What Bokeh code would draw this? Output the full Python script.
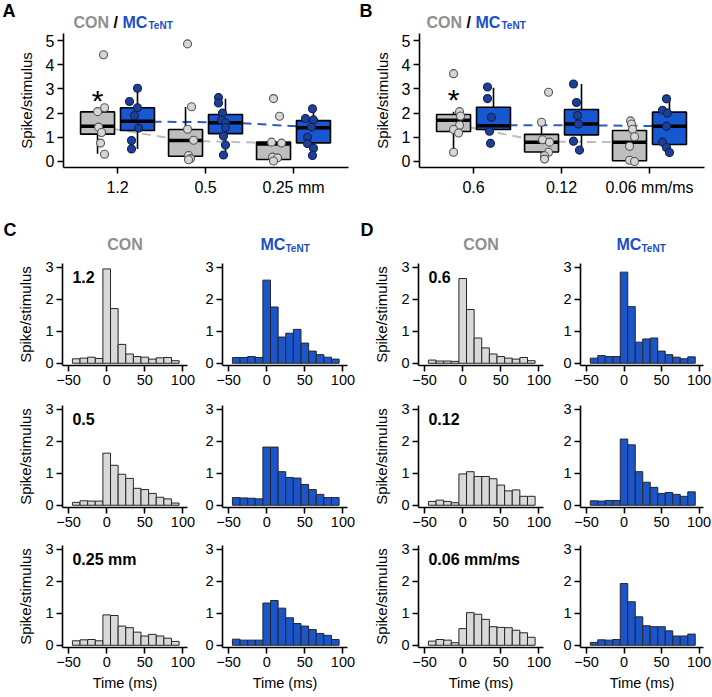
from bokeh.plotting import figure
from bokeh.layouts import column, row
from bokeh.models import FixedTicker, Range1d
from bokeh.embed import file_html
from bokeh.resources import INLINE
from bokeh.core.properties import value

FONT = "Liberation Sans"

# ---------------- data: panels A / B (box plots) ----------------
CATS = [1, 2, 3]
A_TICKS = ["1.2", "0.5", "0.25 mm"]
B_TICKS = ["0.6", "0.12", "0.06 mm/ms"]

# box statistics: q1, median, q3, whisker low, whisker high
A_CON_Q1 = [1.13, 0.22, 0.08]
A_CON_MED = [1.46, 0.87, 0.72]
A_CON_Q3 = [2.05, 1.32, 0.80]
A_CON_WLO = [0.32, 0.07, 0.08]
A_CON_WHI = [2.22, 2.25, 0.80]
A_MC_Q1 = [1.28, 1.15, 0.77]
A_MC_MED = [1.66, 1.60, 1.39]
A_MC_Q3 = [2.22, 1.94, 1.69]
A_MC_WLO = [0.52, 0.25, 0.25]
A_MC_WHI = [3.03, 2.59, 2.18]
A_CON_LINE = [1.46, 0.85, 0.77]
A_MC_LINE = [1.65, 1.62, 1.42]
A_CON_PTS = [[4.41, 2.22, 2.06, 1.42, 1.20, 0.76, 0.30],
             [4.86, 2.26, 1.33, 0.88, 0.25, 0.12, 0.07],
             [2.60, 1.87, 0.80, 0.76, 0.18, 0.15, 0.02]]
A_MC_PTS = [[3.03, 2.48, 2.22, 1.90, 1.38, 0.87, 0.52],
            [2.64, 2.42, 2.00, 1.72, 1.60, 1.40, 1.05, 0.68, 0.27],
            [2.18, 1.78, 1.72, 1.42, 1.00, 0.74, 0.55, 0.25]]

B_CON_Q1 = [1.24, 0.39, 0.03]
B_CON_MED = [1.70, 0.80, 0.80]
B_CON_Q3 = [1.94, 1.12, 1.28]
B_CON_WLO = [0.38, 0.10, 0.00]
B_CON_WHI = [2.06, 1.65, 1.70]
B_MC_Q1 = [1.32, 1.10, 0.70]
B_MC_MED = [1.48, 1.55, 1.46]
B_MC_Q3 = [2.24, 2.15, 2.04]
B_MC_WLO = [1.32, 0.47, 0.37]
B_MC_WHI = [3.05, 3.20, 2.60]
B_CON_LINE = [1.55, 0.82, 0.80]
B_MC_LINE = [1.50, 1.50, 1.46]
B_CON_PTS = [[3.63, 2.06, 1.88, 1.50, 1.32, 1.18, 0.38],
             [2.86, 1.62, 0.90, 0.80, 0.38, 0.24, 0.10],
             [1.68, 1.55, 1.33, 1.02, 0.63, 0.05, 0.00]]
B_MC_PTS = [[3.08, 2.60, 1.83, 1.25, 0.75],
            [3.20, 2.44, 1.90, 1.55, 0.84, 0.47],
            [2.59, 2.12, 2.00, 1.46, 0.80, 0.58, 0.37]]

# horizontal jitter of the dots (pixels)
A_CON_JIT = [[6, 7, 0, 1, 4, 3, 7], [2, 6, 2, 8, 3, 5, 3], [0, 6, -2, 8, -1, 4, 0]]
A_MC_JIT = [[0, -8, 0, -3, 1, -6, -6], [-7, -7, -3, -4, 0, 0, -2, 0, -2], [-1, -8, 0, -2, -6, -6, 0, -1]]
B_CON_JIT = [[0, 6, 7, 6, 0, 5, 0], [7, 0, 1, 8, 7, 3, 3], [1, 2, 3, 5, 0, 0, 5]]
B_MC_JIT = [[-6, -6, -2, -4, -3], [-8, -5, -4, -3, -8, -2], [-3, -7, -2, -3, -7, -3, 0]]

# ---------------- data: panels C / D (histograms) ----------------
BIN_CENTERS = [-40, -30, -20, -10, 0, 10, 20, 30, 40, 50, 60, 70, 80, 90]
BIN_WIDTH = 10
C_LABELS = ["1.2", "0.5", "0.25 mm"]
D_LABELS = ["0.6", "0.12", "0.06 mm/ms"]
C_CON = [
    [0.14, 0.16, 0.19, 0.15, 2.95, 1.71, 0.59, 0.29, 0.21, 0.19, 0.13, 0.17, 0.18, 0.08],
    [0.09, 0.14, 0.13, 0.13, 1.63, 1.25, 0.97, 0.84, 0.53, 0.49, 0.37, 0.25, 0.20, 0.07],
    [0.14, 0.17, 0.18, 0.14, 0.95, 0.93, 0.60, 0.55, 0.41, 0.29, 0.34, 0.29, 0.22, 0.12],
]
C_MC = [
    [0.18, 0.18, 0.21, 0.18, 2.60, 1.76, 0.82, 0.94, 1.06, 0.63, 0.38, 0.27, 0.19, 0.13],
    [0.24, 0.23, 0.22, 0.20, 1.82, 1.82, 1.05, 0.87, 0.85, 0.65, 0.49, 0.34, 0.24, 0.24],
    [0.19, 0.16, 0.16, 0.16, 1.32, 1.40, 1.16, 0.86, 0.68, 0.60, 0.49, 0.37, 0.31, 0.18],
]
D_CON = [
    [0.10, 0.07, 0.07, 0.06, 2.65, 1.68, 0.79, 0.48, 0.29, 0.21, 0.16, 0.13, 0.18, 0.08],
    [0.12, 0.16, 0.12, 0.08, 0.98, 1.05, 0.90, 0.90, 0.83, 0.63, 0.45, 0.48, 0.28, 0.28],
    [0.13, 0.18, 0.16, 0.08, 0.52, 1.02, 0.97, 0.81, 0.58, 0.56, 0.55, 0.47, 0.39, 0.25],
]
D_MC = [
    [0.16, 0.24, 0.21, 0.21, 2.85, 1.77, 0.66, 0.76, 0.79, 0.38, 0.27, 0.19, 0.14, 0.20],
    [0.14, 0.13, 0.15, 0.15, 2.07, 1.89, 1.05, 0.72, 0.56, 0.37, 0.40, 0.34, 0.28, 0.42],
    [0.09, 0.17, 0.16, 0.18, 1.93, 1.36, 0.89, 0.61, 0.58, 0.58, 0.45, 0.29, 0.29, 0.35],
]

# ---------------- styles ----------------
GRAY_BOX = "#BEBEBE"
BLUE_BOX = "#1757D0"
GRAY_PT = "#D6D6D6"
BLUE_PT = "#1E3F96"
GRAY_HIST = "#D9D9D9"
BLUE_HIST = "#1A55CC"
GRAY_TXT = "#8F8F8F"
BLUE_TXT = "#1A4FC8"
GRAY_LINE = "#BDBDBD"
BLUE_LINE = "#2C5BBE"

DODGE = 0.227
BOXW = 0.386
PX_PER_UNIT = 88.0
TOTAL_W = 711


def style(p, tick_size="15px"):
    p.xgrid.visible = False
    p.ygrid.visible = False
    p.outline_line_color = None
    p.background_fill_color = "white"
    p.border_fill_color = "white"
    for ax in (p.xaxis[0], p.yaxis[0]):
        ax.axis_line_width = 1.6
        ax.axis_line_color = "black"
        ax.major_tick_line_width = 1.6
        ax.major_tick_line_color = "black"
        ax.major_tick_out = 6
        ax.major_tick_in = 0
        ax.minor_tick_line_color = None
        ax.major_label_text_font = FONT
        ax.major_label_text_font_size = tick_size
        ax.major_label_text_color = "black"
        ax.axis_label_text_font = FONT
        ax.axis_label_text_font_size = "15px"
        ax.axis_label_text_font_style = "normal"
        ax.axis_label_text_color = "black"
    p.xaxis[0].major_label_standoff = 3
    p.yaxis[0].major_label_standoff = 3


def header(height, y0, items):
    """Strip of free text (panel letters and group titles), in page pixel coordinates."""
    p = figure(width=TOTAL_W, height=height, x_range=Range1d(0, TOTAL_W),
               y_range=Range1d(y0 + height, y0), output_backend="svg",
               toolbar_location=None, x_axis_type=None, y_axis_type=None,
               min_border=0, title=None)
    p.outline_line_color = None
    p.background_fill_color = "white"
    p.border_fill_color = "white"
    for x, y, txt, size, color, align in items:
        p.text(x=[x], y=[y], text=[txt], text_font=value(FONT), text_font_size=size,
               text_font_style="bold", text_color=color, text_align=align,
               text_baseline="middle")
    return p


def group_title(x, y, sub_dy=3.4):
    return [(x, y, "CON", "16px", GRAY_TXT, "left"),
            (x + 40, y, "/", "16px", "black", "left"),
            (x + 49, y, "MC", "16px", BLUE_TXT, "left"),
            (x + 75, y + sub_dy, "TeNT", "10px", BLUE_TXT, "left")]


def box_panel(width, right, ticks, con, mc, con_line, mc_line, con_pts, mc_pts,
              con_jit, mc_jit, star_y):
    p = figure(width=width, height=176, x_range=Range1d(0.386, 3.625),
               y_range=Range1d(-0.248, 5.29), output_backend="svg", toolbar_location=None,
               min_border_left=63, min_border_right=right, min_border_top=2,
               min_border_bottom=40, title=None)
    style(p, tick_size="16px")
    p.xaxis[0].major_label_standoff = 5
    p.yaxis[0].ticker = FixedTicker(ticks=[0, 1, 2, 3, 4, 5])
    p.xaxis[0].ticker = FixedTicker(ticks=CATS)
    p.xaxis[0].major_label_overrides = {c: t for c, t in zip(CATS, ticks)}
    p.yaxis[0].axis_label = "Spike/stimulus"
    p.yaxis[0].axis_label_standoff = 8

    xc = [c - DODGE for c in CATS]
    xm = [c + DODGE for c in CATS]
    p.line(xc, con_line, line_color=GRAY_LINE, line_width=2, line_dash="9 6")
    p.line(xm, mc_line, line_color=BLUE_LINE, line_width=2, line_dash="9 6")
    for xs, st, fill in ((xc, con, GRAY_BOX), (xm, mc, BLUE_BOX)):
        q1, med, q3, wlo, whi = st
        p.segment(x0=xs, y0=q3, x1=xs, y1=whi, line_color="black", line_width=1.6)
        p.segment(x0=xs, y0=q1, x1=xs, y1=wlo, line_color="black", line_width=1.6)
        p.vbar(x=xs, width=BOXW, bottom=q1, top=q3, fill_color=fill,
               line_color="black", line_width=1.6)
        p.segment(x0=[x - BOXW / 2 for x in xs], y0=med, x1=[x + BOXW / 2 for x in xs],
                  y1=med, line_color="black", line_width=3.5)
    for xs, pts, jit, fill, edge in ((xc, con_pts, con_jit, GRAY_PT, "#555555"),
                                     (xm, mc_pts, mc_jit, BLUE_PT, "#0E2157")):
        px, py = [], []
        for x0, vals, js in zip(xs, pts, jit):
            for v, j in zip(vals, js):
                px.append(x0 + j / PX_PER_UNIT)
                py.append(v)
        p.scatter(px, py, size=8, fill_color=fill, line_color=edge, line_width=1.1)
    p.text(x=[xc[0]], y=[star_y], text=["*"], text_font=value(FONT), text_font_size="30px",
           text_align="center", text_baseline="middle", text_color="black")
    return p


pA = box_panel(356, 8, A_TICKS,
               (A_CON_Q1, A_CON_MED, A_CON_Q3, A_CON_WLO, A_CON_WHI),
               (A_MC_Q1, A_MC_MED, A_MC_Q3, A_MC_WLO, A_MC_WHI),
               A_CON_LINE, A_MC_LINE, A_CON_PTS, A_MC_PTS, A_CON_JIT, A_MC_JIT, 2.52)
pB = box_panel(355, 7, B_TICKS,
               (B_CON_Q1, B_CON_MED, B_CON_Q3, B_CON_WLO, B_CON_WHI),
               (B_MC_Q1, B_MC_MED, B_MC_Q3, B_MC_WLO, B_MC_WHI),
               B_CON_LINE, B_MC_LINE, B_CON_PTS, B_MC_PTS, B_CON_JIT, B_MC_JIT, 2.58)

top_header = header(31, 0, [(2, 10, "A", "18px", "black", "left"),
                            (359, 10, "B", "18px", "black", "left")]
                    + group_title(73, 22) + group_title(426, 22))

mid_header = header(49, 207, [(3, 229, "C", "18px", "black", "left"),
                              (360, 229, "D", "18px", "black", "left"),
                              (124.5, 244, "CON", "16px", GRAY_TXT, "center"),
                              (480.5, 244, "CON", "16px", GRAY_TXT, "center"),
                              (260, 244, "MC", "16px", BLUE_TXT, "left"),
                              (285, 248, "TeNT", "10px", BLUE_TXT, "left"),
                              (616, 244, "MC", "16px", BLUE_TXT, "left"),
                              (641, 248, "TeNT", "10px", BLUE_TXT, "left")])

ROW_H = [137, 140, 163]
ROW_TOP = [7, 12, 12]
ROW_BOT = [28, 26, 49]
COL_W = [200, 156, 204, 151]
COL_L = [62, 22, 62, 18]
COL_R = [13, 9, 17, 8]


def hist(r, c, vals, fill, label_text):
    p = figure(width=COL_W[c], height=ROW_H[r], x_range=Range1d(-58, 106),
               y_range=Range1d(-0.07, 3.12), output_backend="svg", toolbar_location=None,
               min_border_left=COL_L[c], min_border_right=COL_R[c],
               min_border_top=ROW_TOP[r], min_border_bottom=ROW_BOT[r], title=None)
    style(p, tick_size="14.5px")
    p.xaxis[0].ticker = FixedTicker(ticks=[-50, 0, 50, 100])
    p.yaxis[0].ticker = FixedTicker(ticks=[0, 1, 2, 3])
    if c in (0, 2):
        p.yaxis[0].axis_label = "Spike/stimulus"
        p.yaxis[0].axis_label_standoff = 8
    if r == 2:
        p.xaxis[0].axis_label = "Time (ms)"
        p.xaxis[0].axis_label_standoff = 5
        p.xaxis[0].axis_label_text_font_size = "14.5px"
    p.quad(left=[b - BIN_WIDTH / 2 for b in BIN_CENTERS],
           right=[b + BIN_WIDTH / 2 for b in BIN_CENTERS],
           bottom=0, top=vals, fill_color=fill, line_color="#262626", line_width=1)
    if label_text:
        p.text(x=[-45], y=[2.69], text=[label_text], text_font=value(FONT),
               text_font_size="16px", text_font_style="bold", text_align="left",
               text_baseline="middle", text_color="black")
    return p


rows = [top_header, row(pA, pB), mid_header]
for r in range(3):
    rows.append(row(hist(r, 0, C_CON[r], GRAY_HIST, C_LABELS[r]),
                    hist(r, 1, C_MC[r], BLUE_HIST, None),
                    hist(r, 2, D_CON[r], GRAY_HIST, D_LABELS[r]),
                    hist(r, 3, D_MC[r], BLUE_HIST, None)))
layout = column(*rows)

open("out.html", "w").write(file_html(layout, INLINE))
